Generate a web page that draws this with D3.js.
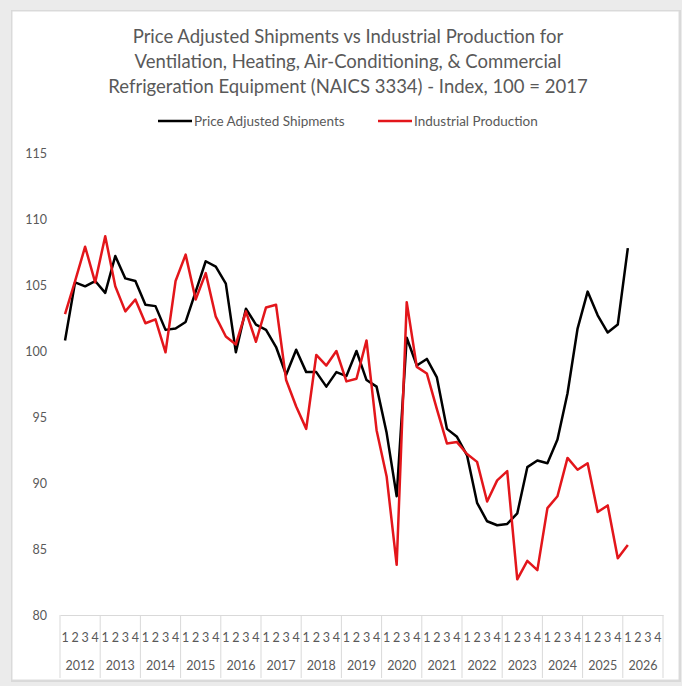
<!DOCTYPE html>
<html>
<head>
<meta charset="utf-8">
<script src="https://cdn.jsdelivr.net/npm/d3@7"></script>
<style>
  html, body { margin: 0; padding: 0; background: #ebebeb; }
  svg { display: block; }
</style>
</head>
<body>
<svg id="chart" width="682" height="686"></svg>
<script>
// ---- Data ----
const titleLines = [
  "Price Adjusted Shipments vs Industrial Production for",
  "Ventilation, Heating, Air-Conditioning, & Commercial",
  "Refrigeration Equipment (NAICS 3334) - Index, 100 = 2017"
];
const seriesNames = ["Price Adjusted Shipments", "Industrial Production"];
const years = ["2012","2013","2014","2015","2016","2017","2018","2019","2020","2021","2022","2023","2024","2025","2026"];
const quarters = ["1","2","3","4"];
const yTicks = [80, 85, 90, 95, 100, 105, 110, 115];

// Quarterly values, 2012 Q1 onward (through 2026 Q1)
const shipments = [
  100.8, 105.2, 104.9, 105.3,   // 2012
  104.4, 107.2, 105.5, 105.3,   // 2013
  103.5, 103.4, 101.6, 101.7,   // 2014
  102.2, 104.5, 106.8, 106.4,   // 2015
  105.1, 99.9, 103.2, 102.0,    // 2016
  101.6, 100.3, 98.2, 100.1,    // 2017
  98.4, 98.4, 97.3, 98.4,       // 2018
  98.1, 100.0, 97.8, 97.3,      // 2019
  93.8, 89.0, 101.0, 98.9,      // 2020
  99.4, 98.0, 94.1, 93.5,       // 2021
  92.1, 88.5, 87.1, 86.8,       // 2022
  86.9, 87.7, 91.2, 91.7,       // 2023
  91.5, 93.3, 96.8, 101.7,      // 2024
  104.5, 102.7, 101.4, 102.0,   // 2025
  107.8                         // 2026
];
const production = [
  102.8, 105.3, 107.9, 105.2,   // 2012
  108.7, 104.9, 103.0, 103.9,   // 2013
  102.1, 102.4, 99.9, 105.3,    // 2014
  107.3, 103.9, 105.9, 102.6,   // 2015
  101.1, 100.5, 103.0, 100.7,   // 2016
  103.3, 103.5, 97.8, 95.8,     // 2017
  94.1, 99.7, 98.9, 100.0,      // 2018
  97.7, 97.9, 100.8, 94.0,      // 2019
  90.5, 83.8, 103.7, 98.8,      // 2020
  98.3, 95.6, 93.0, 93.1,       // 2021
  92.2, 91.6, 88.6, 90.2,       // 2022
  90.9, 82.7, 84.1, 83.4,       // 2023
  88.1, 89.0, 91.9, 91.0,       // 2024
  91.5, 87.8, 88.3, 84.3,       // 2025
  85.3                          // 2026
];

// ---- Layout ----
const svg = d3.select("#chart");
const plot = { left: 60, right: 663, top: 153, bottom: 615 };
const font = "Lato, 'Open Sans', sans-serif";
const textColor = "#595959";
const colors = ["#000000", "#e3161b"];

// frame
svg.append("rect").attr("x", 11).attr("y", 10).attr("width", 670).attr("height", 672)
  .attr("fill", "#d9d9d9");
svg.append("rect").attr("x", 12).attr("y", 11).attr("width", 667).attr("height", 669)
  .attr("fill", "#ffffff").attr("stroke", "#dcdcdc").attr("stroke-width", 1);

// ---- Scales ----
const keys = [];
years.forEach(y => quarters.forEach(q => keys.push(y + "Q" + q)));
const x = d3.scaleBand().domain(keys).range([plot.left, plot.right]).padding(0);
const xYear = d3.scaleBand().domain(years).range([plot.left, plot.right]).padding(0);
const y = d3.scaleLinear().domain([80, 115]).range([plot.bottom, plot.top]);
const cx = i => x(keys[i]) + x.bandwidth() / 2;

// ---- Title ----
svg.append("g").selectAll("text").data(titleLines).join("text")
  .attr("x", 348).attr("y", (d, i) => 43 + i * 25)
  .attr("text-anchor", "middle")
  .attr("font-family", font).attr("font-size", 18.5)
  .attr("fill", textColor).text(d => d);

// ---- Legend ----
const legendItems = [
  { name: seriesNames[0], color: colors[0], x: 158 },
  { name: seriesNames[1], color: colors[1], x: 378 }
];
const lg = svg.append("g").selectAll("g").data(legendItems).join("g")
  .attr("transform", d => `translate(${d.x},121)`);
lg.append("line").attr("x1", 0).attr("x2", 34).attr("y1", 0).attr("y2", 0)
  .attr("stroke", d => d.color).attr("stroke-width", 2.5);
lg.append("text").attr("x", 36).attr("y", 4.7)
  .attr("font-family", font).attr("font-size", 13.5).attr("fill", textColor)
  .text(d => d.name);

// ---- Y axis ----
const yAxis = d3.axisLeft(y).tickValues(yTicks).tickSize(0).tickPadding(0);
const gy = svg.append("g").attr("transform", `translate(47,0)`).call(yAxis);
gy.select(".domain").remove();
gy.selectAll("text").attr("font-family", font).attr("font-size", 12.5).attr("fill", textColor)
  .attr("dy", "0.35em");

// ---- X axis (quarters) ----
const xAxis = d3.axisBottom(x).tickSize(0).tickPadding(0).tickFormat(k => k.split("Q")[1]);
const gx = svg.append("g").attr("transform", `translate(0,${plot.bottom})`).call(xAxis);
gx.select(".domain").attr("stroke", "#d9d9d9");
gx.selectAll("text").attr("font-family", font).attr("font-size", 12.5).attr("fill", textColor)
  .attr("dy", 0).attr("y", 27);

// year labels
const xAxisY = d3.axisBottom(xYear).tickSize(0).tickPadding(0);
const gxy = svg.append("g").attr("transform", `translate(0,${plot.bottom})`).call(xAxisY);
gxy.select(".domain").remove();
gxy.selectAll("text").attr("font-family", font).attr("font-size", 12.5).attr("fill", textColor)
  .attr("dy", 0).attr("y", 55);

// year separators
const bounds = years.map(yr => xYear(yr)).concat([plot.right]);
svg.append("g").selectAll("line").data(bounds).join("line")
  .attr("x1", d => d).attr("x2", d => d)
  .attr("y1", plot.bottom).attr("y2", plot.bottom + 63)
  .attr("stroke", "#d9d9d9").attr("stroke-width", 1);

// ---- Lines ----
const line = d3.line().x((d, i) => cx(i)).y(d => y(d));
[shipments, production].forEach((s, k) => {
  svg.append("path").datum(s)
    .attr("fill", "none").attr("stroke", colors[k]).attr("stroke-width", 2.5)
    .attr("stroke-linejoin", "round").attr("d", line);
});
</script>
</body>
</html>
